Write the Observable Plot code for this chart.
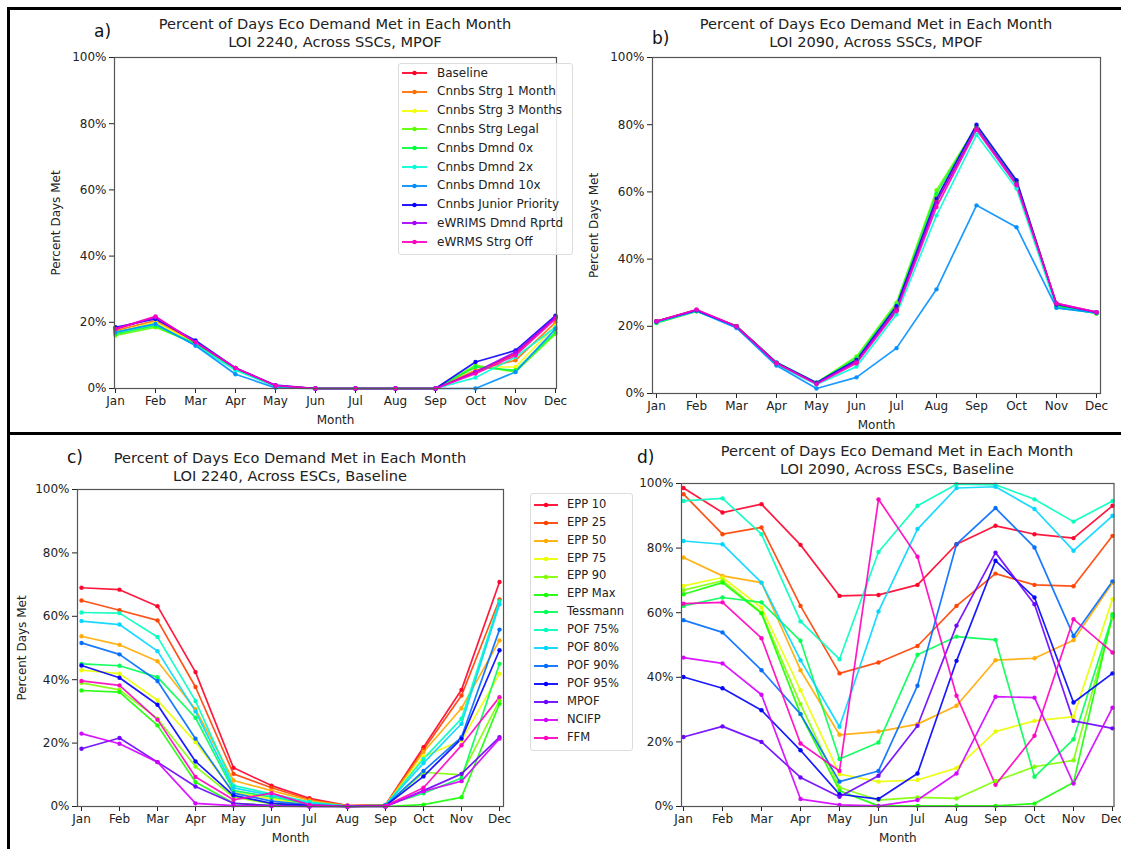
<!DOCTYPE html>
<html><head><meta charset="utf-8">
<script src="https://cdn.jsdelivr.net/npm/d3@7"></script>
<script src="https://cdn.jsdelivr.net/npm/@observablehq/plot@0.6"></script>
<style>
body{margin:0;background:#fff;}
#root{position:relative;width:1121px;height:849px;overflow:hidden;background:#fff;font-family:"DejaVu Sans",sans-serif;color:#222;}
.title{position:absolute;font-size:14.6px;line-height:18px;text-align:center;white-space:nowrap;transform:translateX(-50%);color:#222;}
.tag{position:absolute;font-size:17px;line-height:17px;color:#111;}
.leg{position:absolute;border:1px solid #dcdcdc;border-radius:3px;background:rgba(255,255,255,0.85);box-sizing:border-box;}
.legtext{position:absolute;white-space:nowrap;color:#222;}
.bar{position:absolute;background:#000;}
</style></head><body><div id="root"></div>
<script>
const months = ["Jan","Feb","Mar","Apr","May","Jun","Jul","Aug","Sep","Oct","Nov","Dec"];
const yTicks = [0,20,40,60,80,100];

const sscNames = ["Baseline","Cnnbs Strg 1 Month","Cnnbs Strg 3 Months","Cnnbs Strg Legal","Cnnbs Dmnd 0x","Cnnbs Dmnd 2x","Cnnbs Dmnd 10x","Cnnbs Junior Priority","eWRIMS Dmnd Rprtd","eWRMS Strg Off"];
const escNames = ["EPP 10","EPP 25","EPP 50","EPP 75","EPP 90","EPP Max","Tessmann","POF 75%","POF 80%","POF 90%","POF 95%","MPOF","NCIFP","FFM"];

// a) LOI 2240, Across SSCs, MPOF  (one row per SSC, Jan..Dec)
const loi2240SSC = [
  [18, 21.5, 14, 6, 0.8, 0, 0, 0, 0, 5, 10.5, 21.5],
  [17.5, 20.5, 14, 6, 0.8, 0, 0, 0, 0, 5.5, 8.5, 20],
  [17, 20, 13.5, 6, 0.7, 0, 0, 0, 0, 6.5, 6.5, 19],
  [16, 18.5, 13.5, 6, 0.7, 0, 0, 0, 0, 7, 5, 16.5],
  [16.5, 19, 13.5, 6, 0.7, 0, 0, 0, 0, 6.5, 5.5, 17],
  [17, 19.5, 13, 5.5, 0.6, 0, 0, 0, 0, 3.3, 9.5, 18.5],
  [17, 19.5, 13, 4.3, 0.2, 0, 0, 0, 0, 0, 5, 18],
  [18.5, 21, 14.5, 6.2, 1, 0, 0, 0, 0, 8, 11.5, 22],
  [18, 21.5, 14, 6.2, 0.9, 0, 0, 0, 0, 5, 11, 21.5],
  [18, 21.8, 14, 6.2, 0.9, 0, 0, 0, 0, 4.5, 10, 21]
];
// b) LOI 2090, Across SSCs, MPOF
const loi2090SSC = [
  [21.5, 24.8, 20, 9, 3, 9.5, 25, 57, 79, 63, 26.5, 24],
  [21.5, 24.8, 20, 9, 3, 9.5, 25.5, 57.5, 79, 63, 26.5, 24],
  [21.5, 24.8, 20, 9, 3, 10, 26, 58, 79.5, 63, 26.5, 24],
  [21, 24.5, 20, 9.2, 3.2, 11, 27, 60.5, 79.5, 63, 26, 23.8],
  [21, 24.5, 20, 9.2, 3.2, 10.5, 26.5, 59.5, 79.5, 63, 26, 23.8],
  [21.3, 24.6, 19.8, 8.5, 2.7, 8, 23.5, 53, 77, 61, 25.5, 24],
  [21.3, 24.6, 19.5, 8.3, 1.5, 4.8, 13.5, 31, 56, 49.5, 25.5, 24],
  [21.5, 24.8, 20, 9.2, 3.2, 10, 26, 58, 80, 63.5, 26.5, 24.2],
  [21.5, 24.8, 20, 9, 3, 9.5, 25, 57, 79, 62.5, 26.8, 24.2],
  [21.5, 25, 20, 9, 2.8, 9, 24.5, 55.5, 78.5, 62, 26.8, 24.2]
];
// c) LOI 2240, Across ESCs, Baseline
const loi2240ESC = [
  [69, 68.4, 63.2, 42.4, 12.2, 6.6, 2.6, 0.3, 0.5, 18.7, 36.8, 70.8],
  [65, 61.9, 58.7, 37.7, 10.3, 5.9, 2.2, 0.2, 0.5, 17.9, 35, 65.3],
  [53.7, 51, 45.8, 30.7, 8.2, 5, 1.9, 0.2, 0.4, 17.2, 31, 52.4],
  [43, 41.9, 33.5, 20.3, 4.5, 2.4, 0.6, 0, 0.3, 15.8, 20.8, 41.9],
  [39, 36.8, 27.7, 12.6, 3, 0.8, 0.3, 0, 0.2, 10.8, 10, 33.5],
  [36.6, 36.1, 25.6, 7.7, 1, 0.3, 0.1, 0, 0, 0.6, 2.9, 32.4],
  [45, 44.4, 40.8, 28, 5, 3, 0.8, 0, 0.3, 4.2, 9, 45],
  [61.2, 61, 53.5, 33.3, 6.6, 4, 1.4, 0.1, 0.4, 15, 27.7, 64.8],
  [58.5, 57.4, 49, 30, 5.9, 3.5, 1, 0.1, 0.4, 13.7, 26.1, 63.8],
  [51.6, 48, 39.6, 21.4, 4.2, 1.7, 0.5, 0, 0.3, 11.2, 21.9, 55.8],
  [44.5, 40.6, 32.1, 14.2, 3.5, 1, 0.3, 0, 0.2, 9.5, 21.4, 49.3],
  [18.2, 21.6, 14, 6.3, 1, 0.3, 0, 0, 0, 5, 10.3, 21.9],
  [23, 19.8, 14, 1, 0.3, 0.1, 0, 0, 0, 4.8, 8, 21.4],
  [39.6, 38.2, 27.4, 9.3, 2.1, 4.2, 0.5, 0, 0.2, 5.9, 19.3, 34.5]
];
// d) LOI 2090, Across ESCs, Baseline
const loi2090ESC = [
  [98.6, 91, 93.6, 81, 65.2, 65.5, 68.6, 81.2, 86.9, 84.3, 83.1, 93.1],
  [96.7, 84.3, 86.4, 62.1, 41.2, 44.6, 49.7, 62.1, 72.1, 68.6, 68.2, 83.8],
  [77.1, 71.4, 69.3, 42.2, 22.2, 23.2, 25.5, 31.2, 45.3, 45.9, 51.5, 69.3],
  [68.3, 70.9, 61.6, 36, 10, 7.7, 8.2, 11.9, 23.2, 26.5, 27.8, 64.2],
  [67, 69.9, 60, 31.7, 5.9, 2, 2.8, 2.5, 7.9, 12.3, 14.3, 58.5],
  [65.7, 69.3, 59.8, 28.6, 4.9, 0.2, 0.2, 0.2, 0.2, 0.9, 7.4, 59.5],
  [62.1, 64.7, 63.2, 51.3, 14.7, 19.8, 47, 52.6, 51.6, 9.2, 20.8, 59],
  [94.6, 95.4, 84.3, 57.3, 45.6, 78.8, 93.1, 99.8, 99.6, 95.1, 88.2, 94.6],
  [82.2, 81.2, 69.3, 45.3, 24.7, 60.4, 85.9, 98.6, 99, 92.1, 79.2, 90],
  [57.7, 53.9, 42.2, 28.6, 7.7, 11, 37.4, 81.2, 92.4, 80.2, 52.8, 69.7],
  [40.1, 36.6, 29.8, 17.4, 3.8, 2.3, 10.2, 45.1, 76.1, 64.7, 32.2, 41.2],
  [21.5, 24.8, 20, 9, 3, 9.5, 25, 56, 78.6, 62.6, 26.5, 24.2],
  [46.1, 44.3, 34.6, 2.3, 0.5, 0.2, 2, 10.2, 34, 33.7, 7.1, 30.6],
  [62.8, 63.2, 52.1, 19.5, 11, 95.1, 77.3, 34.3, 6.7, 21.9, 58, 47.7]
];

// matplotlib gist_rainbow colormap (styling only)
function gistRainbow(t){
  const R=[[0,1],[0.03,1],[0.215,1],[0.4,0],[0.586,0],[0.77,0],[0.954,1],[1,1]];
  const G=[[0,0],[0.03,0],[0.215,1],[0.4,1],[0.586,1],[0.77,0],[0.954,0],[1,0]];
  const B=[[0,0.16],[0.03,0],[0.215,0],[0.4,0],[0.586,1],[0.77,1],[0.954,1],[1,0.75]];
  const f=(S)=>{for(let i=1;i<S.length;i++){if(t<=S[i][0]){const[a0,v0]=S[i-1],[a1,v1]=S[i];return v0+(v1-v0)*(t-a0)/(a1-a0);}}return S[S.length-1][1];};
  return d3.rgb(f(R)*255,f(G)*255,f(B)*255).formatHex();
}
const palette = n => d3.range(n).map(i => gistRainbow(i/(n-1)));

function tidy(names, rows){
  return rows.flatMap((r,i)=>r.map((v,j)=>({series:names[i], month:months[j], value:v})));
}

const root = document.getElementById("root");
const ML=72, MR=12, MT=10, MB=46;

function panel(frame, names, rows, yLabelOffset){
  const colors = palette(names.length);
  const data = tidy(names, rows);
  const W = ML + (frame.R-frame.L) + MR, H = MT + (frame.B-frame.T) + MB;
  const svg = Plot.plot({
    width: W, height: H, marginLeft: ML, marginRight: MR, marginTop: MT, marginBottom: MB,
    style: {fontFamily:"DejaVu Sans", fontSize:"12px", color:"#222", background:"transparent", overflow:"visible"},
    x: {type:"point", domain: months, padding: 0, label: "Month", labelAnchor:"center", labelArrow:"none", tickSize:5, tickPadding:3, labelOffset:35},
    y: {domain:[0,100], ticks: yTicks, tickFormat: d=>d+"%", label: yLabelOffset ? "Percent Days Met" : null, labelAnchor:"center", labelArrow:"none", tickSize:5, tickPadding:3, labelOffset: yLabelOffset || 60},
    color: {domain: names, range: colors},
    marks: [
      Plot.line(data, {x:"month", y:"value", z:"series", stroke:"series", strokeWidth:1.7, strokeOpacity:0.9}),
      Plot.dot(data, {x:"month", y:"value", fill:"series", r:2.2, fillOpacity:0.95}),
      Plot.frame({stroke:"#555", strokeWidth:1.2})
    ]
  });
  svg.style.position="absolute";
  svg.style.left=(frame.L-ML)+"px";
  svg.style.top=(frame.T-MT)+"px";
  root.appendChild(svg);
  return colors;
}

function title(cx, y, lines){
  const d=document.createElement("div"); d.className="title";
  d.style.left=cx+"px"; d.style.top=y+"px";
  d.innerHTML=lines.join("<br>");
  root.appendChild(d);
}
function tag(x,y,s){ const d=document.createElement("div"); d.className="tag"; d.style.left=x+"px"; d.style.top=y+"px"; d.textContent=s; root.appendChild(d); }

function legend(names, colors, o){
  const box=document.createElement("div"); box.className="leg";
  Object.assign(box.style,{left:o.left+"px",top:o.top+"px",width:o.width+"px",height:o.height+"px"});
  root.appendChild(box);
  names.forEach((n,i)=>{
    const cy = o.row0 + i*o.step;
    const ns="http://www.w3.org/2000/svg";
    const s=document.createElementNS(ns,"svg");
    s.setAttribute("width", o.x1-o.x0+4); s.setAttribute("height", 8);
    s.style.position="absolute"; s.style.left=(o.x0-2)+"px"; s.style.top=(cy-4)+"px";
    const l=document.createElementNS(ns,"line");
    l.setAttribute("x1",2); l.setAttribute("x2",o.x1-o.x0+2); l.setAttribute("y1",4); l.setAttribute("y2",4);
    l.setAttribute("stroke",colors[i]); l.setAttribute("stroke-width",1.8);
    const c=document.createElementNS(ns,"circle");
    c.setAttribute("cx",(o.x1-o.x0)/2+2); c.setAttribute("cy",4); c.setAttribute("r",2.2); c.setAttribute("fill",colors[i]);
    s.appendChild(l); s.appendChild(c); root.appendChild(s);
    const t=document.createElement("div"); t.className="legtext"; t.textContent=n;
    Object.assign(t.style,{left:o.tx+"px",top:(cy-o.fs*0.62)+"px",fontSize:o.fs+"px",lineHeight:(o.fs*1.2)+"px"});
    root.appendChild(t);
  });
}

const fa={L:114,R:556,T:57,B:388}, fb={L:652,R:1100,T:57,B:393}, fc={L:77,R:503,T:489,B:806}, fd={L:681,R:1113.5,T:483,B:806};

const cA = panel(fa, sscNames, loi2240SSC, 63);
panel(fb, sscNames, loi2090SSC, 63);
const cC = panel(fc, escNames, loi2240ESC, 60);
panel(fd, escNames, loi2090ESC, 0);

title(335, 15, ["Percent of Days Eco Demand Met in Each Month","LOI 2240, Across SSCs, MPOF"]);
title(876, 15, ["Percent of Days Eco Demand Met in Each Month","LOI 2090, Across SSCs, MPOF"]);
title(290, 449, ["Percent of Days Eco Demand Met in Each Month","LOI 2240, Across ESCs, Baseline"]);
title(897, 442, ["Percent of Days Eco Demand Met in Each Month","LOI 2090, Across ESCs, Baseline"]);

tag(94, 23, "a)"); tag(652, 30, "b)"); tag(67, 449, "c)"); tag(637, 449, "d)");

legend(sscNames, cA, {left:398, top:63, width:175, height:192, row0:73, step:18.8, x0:402, x1:427, tx:437, fs:12});
legend(escNames, cC, {left:530, top:493, width:103, height:258, row0:505, step:17.9, x0:534, x1:558, tx:567, fs:11.5});

// figure borders
[[7,7,1114,3],[7,7,3,842],[7,432,1114,3]].forEach(([x,y,w,h])=>{const b=document.createElement("div");b.className="bar";Object.assign(b.style,{left:x+"px",top:y+"px",width:w+"px",height:h+"px"});root.appendChild(b);});
</script></body></html>
